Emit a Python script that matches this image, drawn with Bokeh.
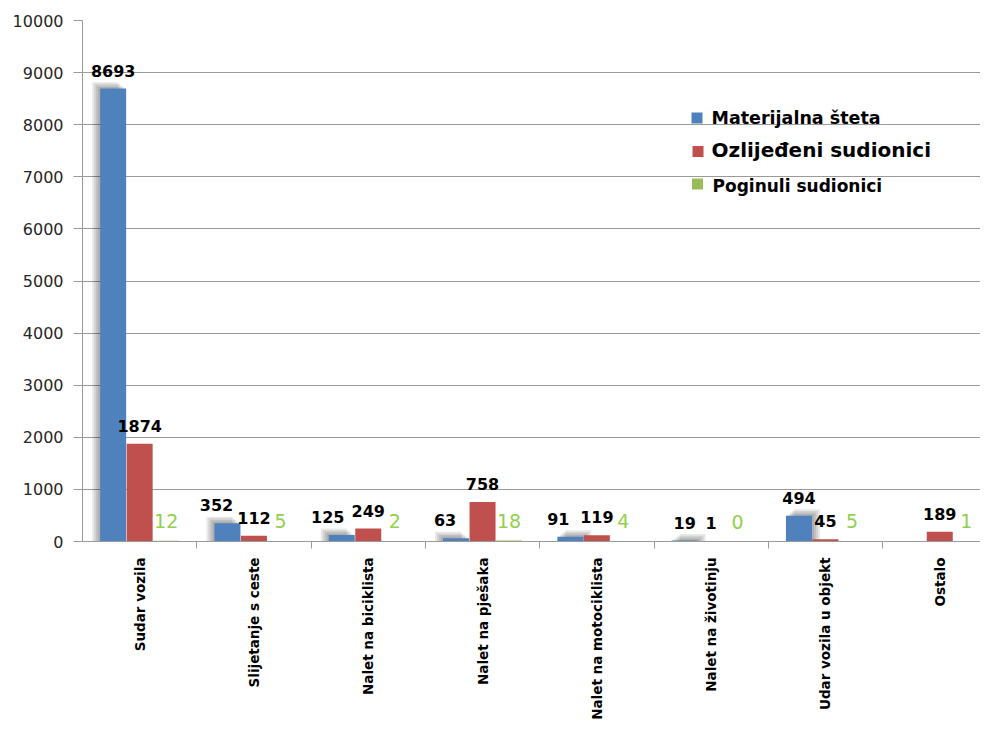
import numpy as np
from bokeh.plotting import figure
from bokeh.models import Range1d, FixedTicker, ColumnDataSource, LabelSet, Label
from bokeh.core.properties import value
from bokeh.embed import file_html
from bokeh.resources import INLINE

# ---------------- data ----------------
categories = ["Sudar vozila", "Slijetanje s ceste", "Nalet na biciklista", "Nalet na pješaka",
              "Nalet na motociklista", "Nalet na životinju", "Udar vozila u objekt", "Ostalo"]
materijalna_steta = [8693, 352, 125, 63, 91, 19, 494, None]
ozlijedeni_sudionici = [1874, 112, 249, 758, 119, 1, 45, 189]
poginuli_sudionici = [12, 5, 2, 18, 4, 0, 5, 1]
series_names = ["Materijalna šteta", "Ozlijeđeni sudionici", "Poginuli sudionici"]
y_ticks = [0, 1000, 2000, 3000, 4000, 5000, 6000, 7000, 8000, 9000, 10000]

# ---------------- style / layout ----------------
BLUE, RED, GREEN, GREEN_TXT = "#4f81bd", "#c0504d", "#9bbb59", "#92d050"
GRID = "#9a9a9a"
FONT = "DejaVu Sans"
W, H = 980, 725
LEFT, TOP, FRAME_H = 82, 20, 521
CAT_PX = 114.3
FRAME_W = W - LEFT
Y_MAX = y_ticks[-1]
PX_X = 1.0 / CAT_PX          # data units per pixel (x)
PX_Y = Y_MAX / FRAME_H       # data units per pixel (y)
BW = 26 * PX_X
OFF = 26.5 * PX_X
# horizontal nudge (px) of the blue value labels, as placed in the original to avoid overlaps
blue_label_nudge_px = [0, -11, -14, -11, -12, 0, 0, 0]

def ix(img_x):  # picture px -> data x
    return (img_x - LEFT) * PX_X

def iy(img_y):  # picture px -> data y
    return (TOP + FRAME_H - img_y) * PX_Y

n = len(categories)
xc = np.arange(n) + 0.5
blue = np.array([np.nan if v is None else v for v in materijalna_steta], dtype=float)
red = np.array(ozlijedeni_sudionici, dtype=float)
green = np.array(poginuli_sudionici, dtype=float)

p = figure(width=W, height=H, output_backend="svg", toolbar_location=None,
           x_range=Range1d(0, FRAME_W / CAT_PX), y_range=Range1d(0, Y_MAX),
           min_border_left=LEFT, min_border_top=TOP, min_border_right=0,
           min_border_bottom=H - TOP - FRAME_H)
p.outline_line_color = None
p.background_fill_color = "white"
p.border_fill_color = "white"

# y axis
p.yaxis.ticker = FixedTicker(ticks=y_ticks)
p.yaxis.major_label_text_font = FONT
p.yaxis.major_label_text_font_size = "16px"
p.yaxis.major_label_text_color = "#262626"
p.yaxis.major_tick_out = 9
p.yaxis.major_tick_in = 0
p.yaxis.minor_tick_out = 0
p.yaxis.minor_tick_in = 0
p.yaxis.major_label_standoff = 10
p.yaxis.axis_line_color = GRID
p.yaxis.major_tick_line_color = GRID

# x axis: category names at centres, separators between categories
p.xaxis.ticker = FixedTicker(ticks=list(xc), minor_ticks=list(np.arange(1, n)))
p.xaxis.major_label_overrides = {float(x): c for x, c in zip(xc, categories)}
p.xaxis.major_label_orientation = np.pi / 2
p.xaxis.major_label_text_font = FONT
p.xaxis.major_label_text_font_size = "13.5px"
p.xaxis.major_label_text_font_style = "bold"
p.xaxis.major_label_text_color = "black"
p.xaxis.major_label_standoff = 9
p.xaxis.major_tick_out = 0
p.xaxis.major_tick_in = 0
p.xaxis.minor_tick_out = 7
p.xaxis.minor_tick_in = 0
p.xaxis.minor_tick_line_color = GRID
p.xaxis.axis_line_color = GRID

p.xgrid.visible = False
p.ygrid.ticker = FixedTicker(ticks=y_ticks)
p.ygrid.grid_line_color = GRID

# soft shadow behind blue bars, cast outward from the chart centre
x_mid = (FRAME_W / CAT_PX) / 2
shadow_dir = np.where(xc - OFF < x_mid, -1.0, 1.0)
for k in (1, 2, 3, 4):
    p.vbar(x=xc - OFF + shadow_dir * k * 2 * PX_X, width=BW, top=blue + k * 1.6 * PX_Y, bottom=0,
           fill_color="black", fill_alpha=0.09, line_color=None)

# bars
p.vbar(x=xc - OFF, width=BW, top=blue, bottom=0, fill_color=BLUE, line_color=None)
p.vbar(x=xc, width=BW, top=red, bottom=0, fill_color=RED, line_color=None)
p.vbar(x=xc + OFF, width=BW, top=green, bottom=0, fill_color=GREEN, line_color=None)

# value labels
mask = ~np.isnan(blue)
nudge = np.array(blue_label_nudge_px, dtype=float) * PX_X
src_b = ColumnDataSource(dict(x=(xc - OFF + nudge)[mask], y=blue[mask],
                              t=[str(int(v)) for v in blue[mask]]))
src_r = ColumnDataSource(dict(x=xc, y=red, t=[str(int(v)) for v in red]))
src_g = ColumnDataSource(dict(x=xc + OFF, y=green, t=[str(int(v)) for v in green]))
for src, col, size, style, off in ((src_b, "black", "16px", "bold", 18),
                                   (src_r, "black", "16px", "bold", 18),
                                   (src_g, GREEN_TXT, "19px", "normal", 20)):
    p.add_layout(LabelSet(x="x", y="y", text="t", source=src, text_align="center",
                          text_baseline="middle", y_offset=off, text_color=col,
                          text_font=value(FONT), text_font_size=value(size),
                          text_font_style=value(style)))

# legend (manual, with differing font sizes as in the original)
leg_colors = [BLUE, RED, GREEN]
sq_pos = [(696.5, 117.5), (697.5, 151), (697, 183.5)]
txt_pos = [(711, 117), (711, 149), (712, 185.5)]
txt_size = ["17.5px", "20px", "17px"]
p.scatter(x=[ix(a) for a, b in sq_pos], y=[iy(b) for a, b in sq_pos], marker="square",
          size=11, fill_color=leg_colors, line_color=None)
for name, (a, b), fs in zip(series_names, txt_pos, txt_size):
    p.add_layout(Label(x=ix(a), y=iy(b), text=name, text_align="left", text_baseline="middle",
                       text_font=FONT, text_font_size=fs, text_font_style="bold",
                       text_color="black"))

open("out.html", "w").write(file_html(p, INLINE))
